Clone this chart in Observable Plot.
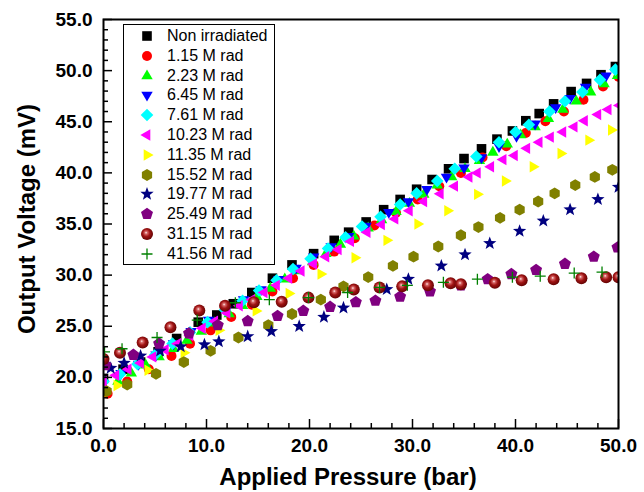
<!DOCTYPE html>
<html><head><meta charset="utf-8">
<script src="https://cdn.jsdelivr.net/npm/d3@7"></script>
<script src="https://cdn.jsdelivr.net/npm/@observablehq/plot@0.6"></script>
<style>
body{margin:0;background:#fff;}
#wrap{position:relative;width:644px;height:492px;font-family:"Liberation Sans",Arial,sans-serif;}
#legend{position:absolute;left:123px;top:24px;width:152px;height:241px;border:1.5px solid #000;background:#fff;box-sizing:border-box;}
.row{position:absolute;left:0;height:20px;display:flex;align-items:center;font-size:16px;color:#000;white-space:nowrap;}
.row svg{margin-right:11px;}
</style></head><body><div id="wrap"></div>
<svg width="0" height="0" style="position:absolute">
 <defs>
  <radialGradient id="sphere" cx="0.45" cy="0.45" r="0.6" fx="0.42" fy="0.38">
   <stop offset="0" stop-color="#fff4f4"/>
   <stop offset="0.18" stop-color="#d86a6a"/>
   <stop offset="0.5" stop-color="#a01414"/>
   <stop offset="1" stop-color="#5a0000"/>
  </radialGradient>
 </defs>
</svg>
<script>
// ---- data ----
const seriesNames = ["Non irradiated","1.15 M rad","2.23 M rad","6.45 M rad","7.61 M rad","10.23 M rad","11.35 M rad","15.52 M rad","19.77 M rad","25.49 M rad","31.15 M rad","41.56 M rad"];
const seriesColors = ["#000000","#ff0000","#00ff00","#0000ff","#00ffff","#ff00ff","#ffff00","#808000","#000080","#800080","url(#sphere)","#008000"];
const xTicks = [0,10,20,30,40,50];
const yTicks = [15,20,25,30,35,40,45,50,55];
const xTitle = "Applied Pressure (bar)";
const yTitle = "Output Voltage (mV)";

const p0 = [0,1.9,3.6,5.3,7.1,9.2,11.0,12.6,14.4,16.4,18.3,20.4,22.4,23.8,25.5,27.2,28.8,30.4,31.9,33.5,35.0,36.7,38.2,39.7,41.0,42.3,43.7,45.4,46.9,48.3,49.7];
const v0 = [19.9,20.8,21.5,22.5,23.8,25.4,26.1,27.2,28.3,29.7,31.0,32.1,33.4,34.2,35.2,36.4,37.4,38.4,39.35,40.4,41.4,42.35,43.3,44.1,45.1,45.8,46.75,47.95,48.75,49.6,50.4];
const p1 = [0.4,2.3,4.4,6.6,8.4,10.4,12.4,14.4,16.4,18.4,20.4,22.4,24.4,26.3,28.4,30.5,32.6,34.7,36.8,39.1,41.0,42.9,44.7,46.6,48.5,50.0];
const v1 = [18.4,19.6,20.8,22.1,23.3,24.6,25.9,27.1,28.4,29.7,31.0,32.3,33.6,34.85,36.1,37.4,38.7,40.0,41.5,42.6,43.9,45.05,46.0,47.15,48.45,49.4];
const p2 = [0,1.4,2.7,4.1,5.4,6.8,8.1,9.5,10.8,12.2,13.5,14.9,16.2,17.6,18.9,20.3,21.6,23.0,24.3,25.7,27.0,28.4,29.7,31.1,32.4,33.8,35.1,36.5,37.8,39.2,40.5,41.9,43.2,44.6,45.9,47.3,48.6,49.9];
const v2 = [18.7,19.6,20.4,21.2,22.0,22.8,23.6,24.5,25.3,26.2,27.0,27.9,28.7,29.6,30.4,31.3,32.1,33.0,33.8,34.6,35.4,36.2,37.0,37.9,38.8,39.6,40.4,41.2,42.0,42.8,43.7,44.5,45.3,46.2,47.0,47.9,48.7,49.5];
const p3 = [0,1.7,3.4,5.1,6.8,8.5,10.2,11.9,13.6,15.3,17.0,18.7,20.4,22.1,23.8,25.5,27.7,29.6,31.4,33.3,35.0,36.7,38.4,40.1,41.9,43.9,45.3,46.8,48.8,50.0];
const v3 = [19.4,20.4,21.3,22.2,23.3,24.5,25.6,26.6,27.6,28.6,29.6,30.7,31.8,32.8,33.8,34.8,36.15,37.2,38.4,39.6,40.5,41.5,42.6,43.6,44.8,46.4,47.3,48.4,49.5,50.2];
const p4 = [0,1.6,3.3,5.0,6.7,8.4,10.1,11.8,13.5,15.1,16.8,18.4,20.1,21.8,23.5,25.1,26.9,28.8,30.4,32.4,34.1,36.2,38.4,40.0,41.3,43.3,44.8,46.5,48.2,49.7];
const v4 = [19.6,20.3,21.3,22.2,23.3,24.4,25.4,26.6,27.5,28.5,29.5,30.6,31.6,32.6,33.7,34.75,35.7,36.9,38.0,39.2,40.4,41.6,43.0,44.0,44.7,46.0,47.0,47.9,49.1,50.1];
const p5 = [0,1.2,2.4,3.6,4.8,6.0,7.2,8.4,9.6,10.8,12.0,13.2,14.4,15.6,16.8,18.0,19.2,20.4,21.6,22.8,24.0,25.6,27.0,28.3,29.7,31.1,32.7,34.1,35.5,36.3,37.6,38.8,39.9,41.1,42.3,43.4,44.6,45.7,46.7,48.0,49.0,50.1];
const v5 = [19.6,20.2,20.8,21.4,22.0,22.7,23.3,24.1,24.8,25.5,26.3,27.0,27.6,28.3,29.0,29.7,30.4,31.1,31.8,32.5,33.3,34.2,34.95,35.5,36.3,37.2,37.95,38.7,39.6,40.0,40.6,41.3,41.7,42.4,43.0,43.5,44.0,44.5,45.1,45.7,46.2,46.6];
const p6 = [0,1.3,4.3,7.8,11.2,14.8,18.0,21.1,24.4,27.5,30.5,33.4,36.3,39.0,41.7,44.4,47.1,49.3];
const v6 = [18.4,19.2,20.7,22.4,24.6,26.5,28.2,30.1,31.7,33.4,35.0,36.3,37.9,39.2,40.6,41.9,43.2,44.2];
const p7 = [0.3,2.3,5.1,7.8,10.4,13.1,16.0,18.3,21.1,23.3,25.7,28.1,30.1,32.5,34.7,36.4,38.5,40.4,42.2,43.8,45.8,47.7,49.4];
const v7 = [18.65,19.3,20.35,21.5,22.6,23.9,25.1,26.2,27.6,28.9,29.8,30.9,31.8,32.8,33.9,34.7,35.6,36.4,37.2,38.0,38.8,39.6,40.3];
const p8 = [0.7,2.0,3.6,5.5,7.5,9.8,11.2,14.0,16.3,19.0,21.4,23.3,27.5,29.6,32.8,35.1,37.5,40.4,42.7,45.3,48.0,50.0];
const v8 = [20.9,21.4,22.1,22.6,23.0,23.2,23.5,24.0,24.5,25.0,25.9,26.8,28.6,29.6,30.9,32.0,33.1,34.3,35.3,36.4,37.4,38.6];
const p9 = [0.2,2.9,5.4,8.3,11.1,14.0,16.9,19.4,22.0,24.5,26.4,28.8,31.7,34.7,37.3,39.6,42.0,44.8,47.6,49.9];
const v9 = [21.2,22.2,23.3,24.3,25.1,25.5,26.0,26.5,26.9,27.35,27.5,27.9,28.4,29.0,29.6,30.1,30.5,31.1,31.8,32.7];
const p10 = [0,1.6,3.8,6.5,9.3,11.8,14.6,17.3,19.9,22.5,24.3,26.8,29.0,31.5,33.7,34.7,38.0,40.6,43.7,46.4,48.8,50.0];
const v10 = [21.8,22.4,23.4,24.9,26.55,27.0,27.35,27.4,27.8,28.3,28.6,28.8,28.9,29.0,29.2,29.1,29.25,29.5,29.6,29.7,29.8,29.8];
const p11 = [0.1,1.8,5.2,9.1,12.8,16.1,19.9,23.7,26.8,29.5,33.0,36.3,39.7,42.4,45.7,48.4];
const v11 = [22.5,22.8,23.9,25.6,27.3,27.6,27.8,28.3,28.8,29.0,29.3,29.6,29.8,29.9,30.2,30.3];

const pressures = [p0,p1,p2,p3,p4,p5,p6,p7,p8,p9,p10,p11];
const voltages  = [v0,v1,v2,v3,v4,v5,v6,v7,v8,v9,v10,v11];

// ---- symbols (pixel shapes) ----
function poly(pts){return {draw(ctx){pts.forEach(([x,y],i)=>i?ctx.lineTo(x,y):ctx.moveTo(x,y));ctx.closePath();}};}
function regular(n,r,rot){return poly(d3.range(n).map(k=>{const a=rot+k*2*Math.PI/n;return [r*Math.cos(a),r*Math.sin(a)];}));}
function circ(r){return {draw(ctx){ctx.moveTo(r,0);ctx.arc(0,0,r,0,2*Math.PI);ctx.closePath();}};}
const starPts = d3.range(10).map(k=>{const a=-Math.PI/2+k*Math.PI/5;const r=k%2?2.9:7;return [r*Math.cos(a),r*Math.sin(a)];});
const symbols = [
  poly([[-4.8,-4.8],[4.8,-4.8],[4.8,4.8],[-4.8,4.8]]),
  circ(5),
  poly([[0,-6.6],[5.7,3.3],[-5.7,3.3]]),
  poly([[0,6.6],[5.7,-3.3],[-5.7,-3.3]]),
  poly([[0,-6.3],[6.3,0],[0,6.3],[-6.3,0]]),
  poly([[-6.6,0],[3.3,-5.7],[3.3,5.7]]),
  poly([[6.6,0],[-3.3,-5.7],[-3.3,5.7]]),
  regular(6,5.9,-Math.PI/2),
  poly(starPts),
  regular(5,6.3,-Math.PI/2),
  circ(6),
  {draw(ctx){ctx.moveTo(-5.5,0);ctx.lineTo(5.5,0);ctx.moveTo(0,-5.5);ctx.lineTo(0,5.5);}}
];

// ---- layout ----
const W=644,H=492,mL=103,mR=26,mT=19,mB=64;
const frameW=W-mL-mR, frameH=H-mT-mB;
const xMinor=d3.range(0,51,2).filter(d=>d%10!==0), yMinor=d3.range(15,56,1).filter(d=>d%5!==0);

const dotMarks = seriesNames.map((name,i)=>{
  const rows = pressures[i].map((p,j)=>({p, v: voltages[i][j]}));
  const isPlus = i===11;
  return Plot.dot(rows,{x:"p",y:"v",symbol:symbols[i],r:5,clip:true,
    fill: isPlus?"none":seriesColors[i],
    stroke: isPlus?seriesColors[i]:"none",
    strokeWidth: isPlus?1.3:0});
});

const chart = Plot.plot({
  width:W,height:H,marginLeft:mL,marginRight:mR,marginTop:mT,marginBottom:mB,
  x:{domain:[0,50]}, y:{domain:[15,55]},
  style:{fontFamily:'"Liberation Sans",Arial,sans-serif',background:"white",color:"black"},
  marks:[
    ...dotMarks,
    Plot.tickX(xMinor,{x:d=>d,insetTop:frameH-5,strokeWidth:1.5}),
    Plot.tickX(xTicks,{x:d=>d,insetTop:frameH-9,strokeWidth:1.5}),
    Plot.tickY(yMinor,{y:d=>d,insetRight:frameW-5,strokeWidth:1.5}),
    Plot.tickY(yTicks,{y:d=>d,insetRight:frameW-9,strokeWidth:1.5}),
    Plot.axisX({ticks:xTicks,tickFormat:d=>d.toFixed(1),tickSize:0,tickPadding:10,fontSize:19,fontWeight:"bold",label:null}),
    Plot.axisY({ticks:yTicks,tickFormat:d=>d.toFixed(1),tickSize:0,tickPadding:11,fontSize:19,fontWeight:"bold",label:null}),
    Plot.frame({strokeWidth:2}),
    Plot.text([xTitle],{frameAnchor:"bottom",textAnchor:"middle",lineAnchor:"middle",dx:-13,dy:49,fontSize:24,fontWeight:"bold"}),
    Plot.text([yTitle],{frameAnchor:"left",textAnchor:"middle",lineAnchor:"middle",rotate:-90,dx:-76,dy:-5,fontSize:24,fontWeight:"bold"})
  ]
});
const wrap=document.getElementById("wrap");
wrap.appendChild(chart);

// ---- legend ----
const leg=document.createElement("div");leg.id="legend";wrap.appendChild(leg);
seriesNames.forEach((name,i)=>{
  const row=document.createElement("div");row.className="row";
  row.style.top=(1+i*19.8)+"px";row.style.left="14px";
  const s=d3.create("svg").attr("width",18).attr("height",18).attr("viewBox","-9 -9 18 18").style("overflow","visible");
  const path=d3.path();symbols[i].draw(path,0);
  const isPlus=i===11;
  s.append("path").attr("d",path.toString()).attr("fill",isPlus?"none":seriesColors[i]).attr("stroke",isPlus?seriesColors[i]:"none").attr("stroke-width",isPlus?1.3:0);
  row.appendChild(s.node());
  const t=document.createElement("span");t.textContent=name;row.appendChild(t);
  leg.appendChild(row);
});
</script></body></html>
